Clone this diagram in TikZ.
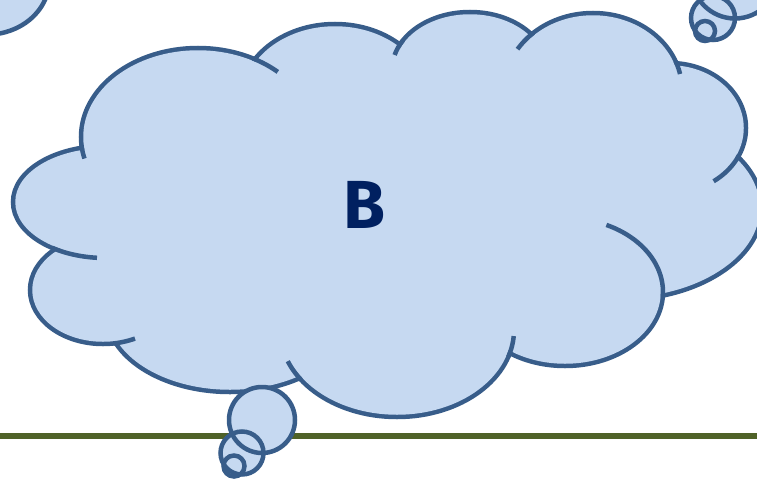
\documentclass[tikz,border=0pt]{standalone}
\usepackage{fontspec}
\newfontfamily\bfont{Fira Sans}
\definecolor{cfill}{HTML}{C6D9F1}
\definecolor{cline}{HTML}{385D8A}
\definecolor{tcol}{HTML}{002060}
\definecolor{gline}{HTML}{4F6228}
\begin{document}
\begin{tikzpicture}[x=1pt,y=-1pt,
  cloudpart/.style={fill=cfill, draw=cline, line width=9pt},
  stub/.style={draw=cline, line width=4.5pt},
  bubble/.style={draw=cline, line width=4.5pt},
  lbl/.style={text=tcol, font=\bfont\bfseries\fontsize{68}{68}\selectfont, anchor=base, inner sep=0pt}]
\useasboundingbox (0,0) rectangle (757,479);
\clip (0,0) rectangle (757,479);
% top-left partial cloud
\filldraw[fill=cfill, draw=cline, line width=4.5pt] (47,-5) .. controls (40,15) and (22,30) .. (-3,34) -- (-12,34) -- (-12,-12) -- (47,-12) -- cycle;
% top-right bubbles
\fill[cfill] (735,-25) circle[radius=43.5];
\fill[cfill] (713,18) circle[radius=22];
\fill[cfill] (705,31) circle[radius=10];
\draw[bubble] (735,-25) circle[radius=43.5];
\draw[bubble] (713,18) circle[radius=22];
\draw[bubble] (705,31) circle[radius=10];
% green line
\coordinate (gl) at (0,436);
\coordinate (gr) at (757,436);
\draw[gline, line width=6pt] (gl) -- (gr);
% main cloud: outline of union of lobes
\def\lobes{198/137/117/89, 105/202/92/56, 103/290/73/54, 230/312/124/80, 397/330/117/87, 565/292/98/74, 619/208/143/92, 670/128/76/65, 593/90/89/77, 470/70/78/58, 335/100/95/76}
\foreach \cx/\cy/\rx/\ry in \lobes {
  \pgfmathsetmacro\ra{\rx-2.25}\pgfmathsetmacro\rb{\ry-2.25}
  \filldraw[cloudpart] (\cx,\cy) ellipse[x radius=\ra, y radius=\rb];
}
\fill[cfill] (198,137) -- (105,202) -- (103,290) -- (230,312) -- (397,330) -- (565,292) -- (619,208) -- (670,128) -- (593,90) -- (470,70) -- (335,100) -- cycle;
\foreach \cx/\cy/\rx/\ry in \lobes {
  \pgfmathsetmacro\ra{\rx-2.25}\pgfmathsetmacro\rb{\ry-2.25}
  \fill[cfill] (\cx,\cy) ellipse[x radius=\ra, y radius=\rb];
}
% interior stubs
\draw[stub] plot[domain=166:175, samples=12, variable=\t] ({198+117*cos(\t)},{137+89*sin(\t)});
\draw[stub] plot[domain=-62:-47, samples=12, variable=\t] ({198+117*cos(\t)},{137+89*sin(\t)});
\draw[stub] plot[domain=195:211, samples=12, variable=\t] ({470+78*cos(\t)},{70+58*sin(\t)});
\draw[stub] plot[domain=212:228, samples=12, variable=\t] ({593+89*cos(\t)},{90+77*sin(\t)});
\draw[stub] plot[domain=-22:-12, samples=12, variable=\t] ({593+89*cos(\t)},{90+77*sin(\t)});
\draw[stub] plot[domain=25:55, samples=15, variable=\t] ({670+76*cos(\t)},{128+65*sin(\t)});
\draw[stub] plot[domain=-65:4, samples=25, variable=\t] ({565+98*cos(\t)},{292+74*sin(\t)});
\draw[stub] plot[domain=4:18, samples=12, variable=\t] ({397+117*cos(\t)},{330+87*sin(\t)});
\draw[stub] plot[domain=145:159, samples=12, variable=\t] ({397+117*cos(\t)},{330+87*sin(\t)});
\draw[stub] plot[domain=64:82, samples=12, variable=\t] ({103+73*cos(\t)},{290+54*sin(\t)});
\draw[stub] plot[domain=95:125, samples=15, variable=\t] ({105+92*cos(\t)},{202+56*sin(\t)});
% bottom bubbles
\fill[cfill] (262,420) circle[radius=33];
\fill[cfill] (242,453) circle[radius=21.5];
\fill[cfill] (234,466) circle[radius=10.5];
\draw[bubble] (262,420) circle[radius=33];
\draw[bubble] (242,453) circle[radius=21.5];
\draw[bubble] (234,466) circle[radius=10.5];
% label
\node[lbl] (b) at (364.5,228) {B};
\end{tikzpicture}
\end{document}
